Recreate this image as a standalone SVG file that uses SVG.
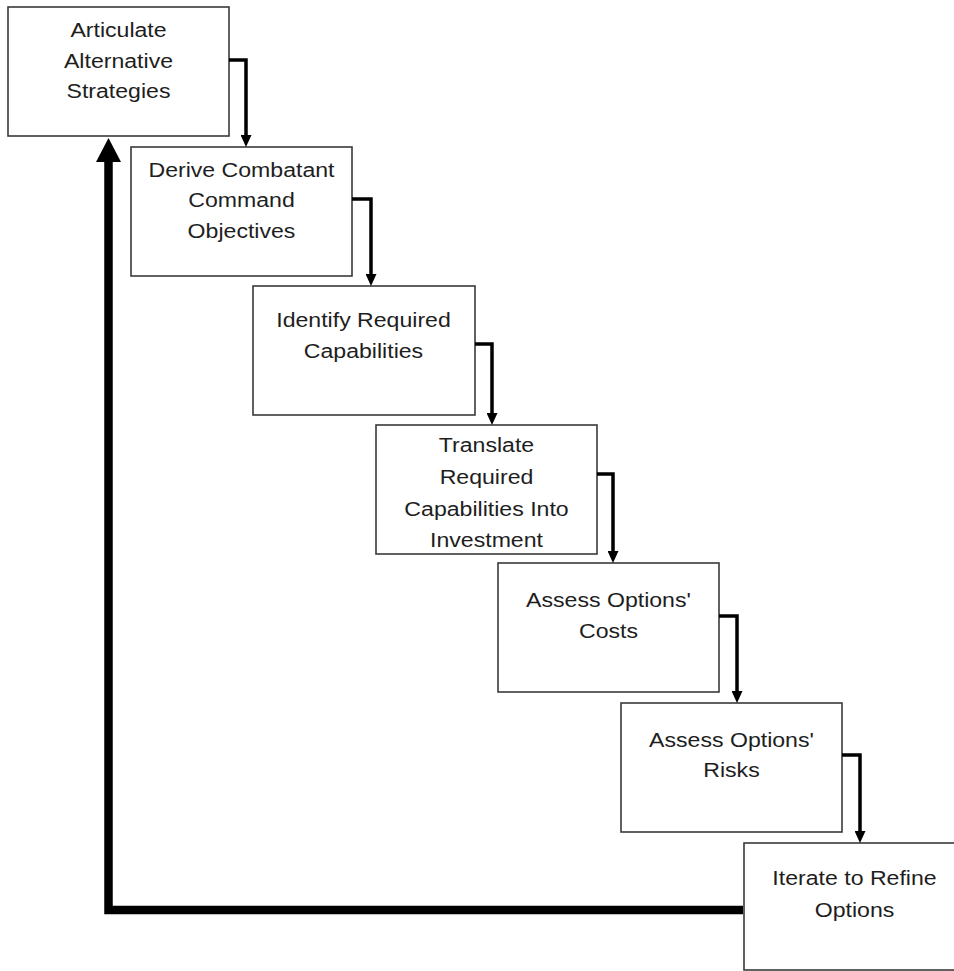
<svg xmlns="http://www.w3.org/2000/svg" width="954" height="971" viewBox="0 0 954 971">
  <style>
    .box { fill: #ffffff; stroke: #3a3a3a; stroke-width: 1.6; }
    .lbl { font-family: "Liberation Sans", Arial, sans-serif; font-size: 21px; fill: #1e1e1e; text-anchor: middle; }
    .conn { fill: none; stroke: #000000; stroke-width: 3.5; stroke-linejoin: miter; stroke-linecap: butt; }
    .back { fill: none; stroke: #000000; stroke-width: 8.5; stroke-linejoin: miter; stroke-linecap: butt; }
  </style>
  <defs>
    <marker id="ah" markerUnits="userSpaceOnUse" viewBox="0 0 12 11" markerWidth="12" markerHeight="11" refX="0" refY="5.5" orient="auto">
      <path d="M0,0 L12,5.5 L0,11 z" fill="#000000"/>
    </marker>
    <marker id="ahBig" markerUnits="userSpaceOnUse" viewBox="0 0 24 25" markerWidth="24" markerHeight="25" refX="0" refY="12.5" orient="auto">
      <path d="M0,0 L24,12.5 L0,25 z" fill="#000000"/>
    </marker>
  </defs>

  <rect width="954" height="971" fill="#ffffff"/>

  <g id="n1">
    <rect class="box" x="8" y="7" width="221" height="129"/>
    <text class="lbl" transform="translate(118.5,0) scale(1.1,1)"><tspan x="0" y="37">Articulate</tspan><tspan x="0" y="68">Alternative</tspan><tspan x="0" y="98">Strategies</tspan></text>
  </g>
  <g id="n2">
    <rect class="box" x="131" y="147" width="221" height="129"/>
    <text class="lbl" transform="translate(241.5,0) scale(1.1,1)"><tspan x="0" y="177">Derive Combatant</tspan><tspan x="0" y="207">Command</tspan><tspan x="0" y="238">Objectives</tspan></text>
  </g>
  <g id="n3">
    <rect class="box" x="253" y="286" width="222" height="129"/>
    <text class="lbl" transform="translate(363.5,0) scale(1.1,1)"><tspan x="0" y="327">Identify Required</tspan><tspan x="0" y="358">Capabilities</tspan></text>
  </g>
  <g id="n4">
    <rect class="box" x="376" y="425" width="221" height="129"/>
    <text class="lbl" transform="translate(486.5,0) scale(1.1,1)"><tspan x="0" y="452">Translate</tspan><tspan x="0" y="484">Required</tspan><tspan x="0" y="516">Capabilities Into</tspan><tspan x="0" y="547">Investment</tspan></text>
  </g>
  <g id="n5">
    <rect class="box" x="498" y="563" width="221" height="129"/>
    <text class="lbl" transform="translate(608.5,0) scale(1.1,1)"><tspan x="0" y="607">Assess Options'</tspan><tspan x="0" y="638">Costs</tspan></text>
  </g>
  <g id="n6">
    <rect class="box" x="621" y="703" width="221" height="129"/>
    <text class="lbl" transform="translate(731.5,0) scale(1.1,1)"><tspan x="0" y="747">Assess Options'</tspan><tspan x="0" y="777">Risks</tspan></text>
  </g>
  <g id="n7">
    <rect class="box" x="744" y="843" width="221" height="127"/>
    <text class="lbl" transform="translate(854.5,0) scale(1.1,1)"><tspan x="0" y="885">Iterate to Refine</tspan><tspan x="0" y="917">Options</tspan></text>
  </g>

  <g id="connectors">
    <path class="conn" d="M229,60 H246 V135" marker-end="url(#ah)"/>
    <path class="conn" d="M352,199 H371 V274" marker-end="url(#ah)"/>
    <path class="conn" d="M475,344 H492 V413" marker-end="url(#ah)"/>
    <path class="conn" d="M597,474 H613 V551" marker-end="url(#ah)"/>
    <path class="conn" d="M719,616 H737 V691" marker-end="url(#ah)"/>
    <path class="conn" d="M842,755 H860 V831" marker-end="url(#ah)"/>
    <path class="back" d="M743,910 H108.5 V162" marker-end="url(#ahBig)"/>
  </g>
</svg>
